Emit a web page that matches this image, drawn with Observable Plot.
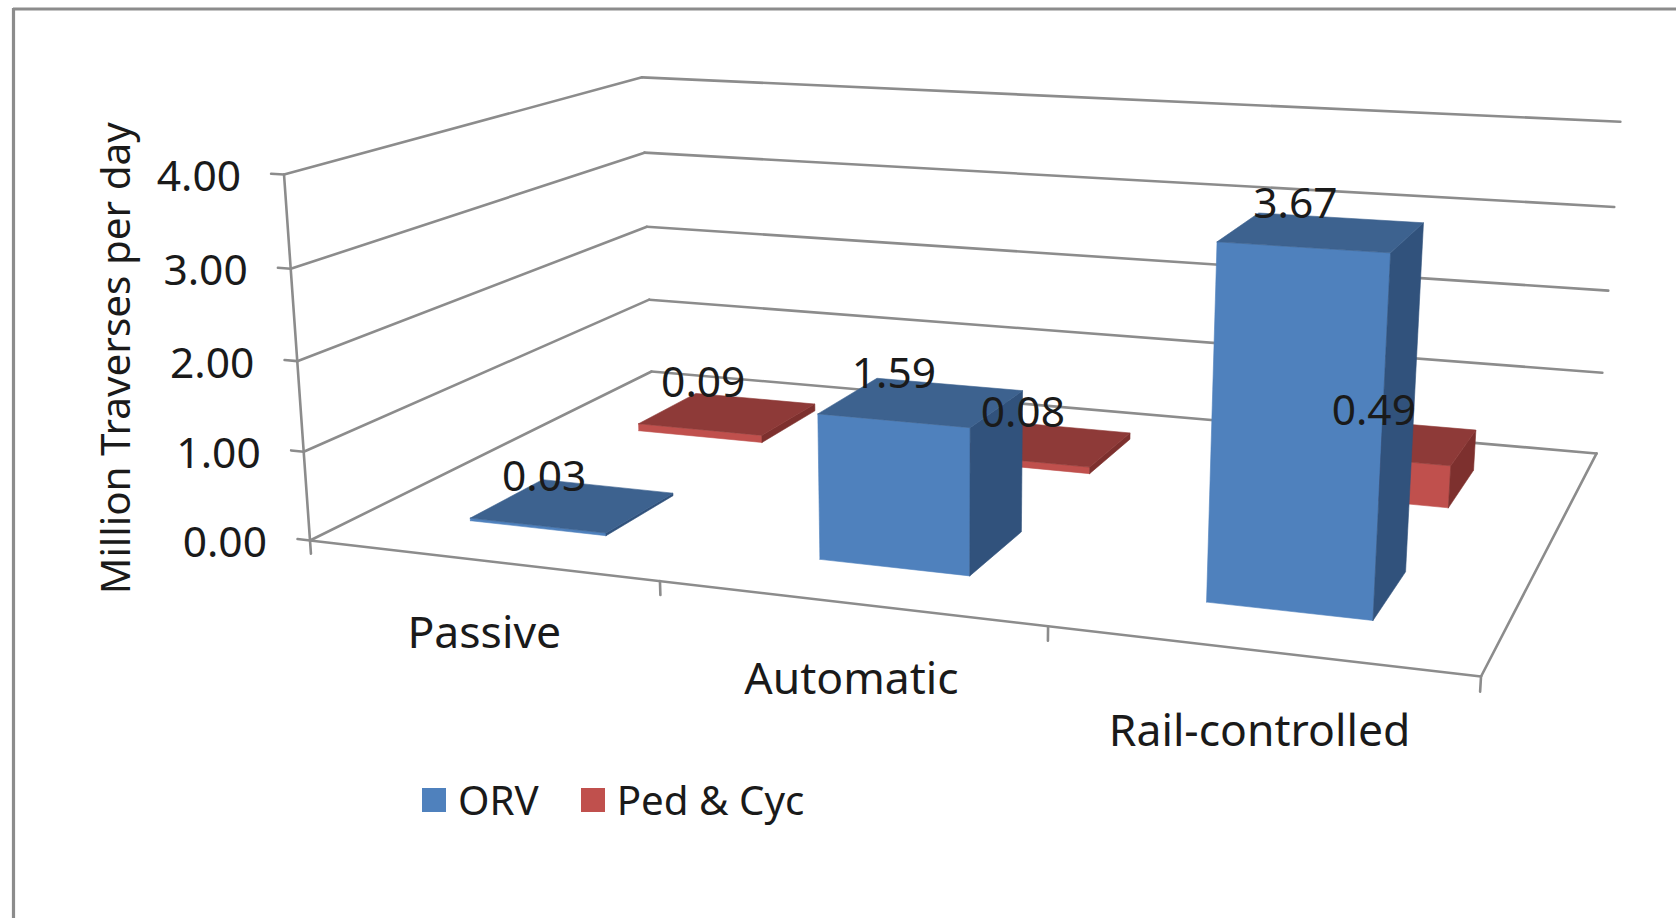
<!DOCTYPE html>
<html>
<head>
<meta charset="utf-8">
<script src="https://cdn.jsdelivr.net/npm/d3@7"></script>
<script src="https://cdn.jsdelivr.net/npm/@observablehq/plot@0.6"></script>
<style>
  html, body { margin: 0; padding: 0; background: #fff; overflow: hidden; }
  #chart { position: relative; width: 1676px; height: 918px; }
  #chart svg { display: block; }
  #legend {
    position: absolute; left: 422px; top: 778px; display: flex; align-items: center;
    font: 40.3px "Noto Sans", sans-serif; color: #1a1a1a; line-height: 44px;
  }
  #legend span.swatch { width: 24px; height: 24px; display: inline-block; margin-right: 12px; }
  #legend span.name { margin-right: 42px; }
</style>
</head>
<body>
<div id="chart"></div>
<script>
// Crossing traffic by crossing type, two rows of 3-D columns.
const categories = ["Passive", "Automatic", "Rail-controlled"];
const seriesNames = ["ORV", "Ped & Cyc"];
const orv = [0.03, 1.59, 3.67];
const pedCyc = [0.09, 0.08, 0.49];
const valueTicks = [0, 1, 2, 3, 4];
const tickFormat = d3.format(".2f");

const W = 1676, H = 918;

// Column colours: front, top and side shading per series.
const shades = [
  {front: "#4f81bd", top: "#3d628f", side: "#31527c"},
  {front: "#c0504d", top: "#8e3a38", side: "#7d302e"}
];

// Projective camera: (u along categories, v into depth, value up) to page units.
const camera = [
  [952.5, 509, -9.275, 309.5],
  [36.2, -73.6, -93.2, 540],
  [-0.1476, 0.2572, -0.0098, 1]
];
function project(u, v, value) {
  const [a, b, c] = camera;
  const w = c[0] * u + c[1] * v + c[2] * value + c[3];
  return {
    x: (a[0] * u + a[1] * v + a[2] * value + a[3]) / w,
    y: (b[0] * u + b[1] * v + b[2] * value + b[3]) / w
  };
}

const segment = (p, q) => Plot.line([p, q], {x: "x", y: "y", stroke: "#8c8c8c", strokeWidth: 2.6});

// Cage: floor outline, wall gridlines, value axis and tick marks.
const cage = [
  segment(project(0, 0, 0), project(1, 0, 0)),
  segment(project(1, 0, 0), project(1, 1, 0)),
  segment(project(0, 0, -0.15), project(0, 0, 4)),
  ...valueTicks.flatMap(t => [
    segment(project(-0.0125, 0, t), project(0, 0, t)),
    segment(project(0, 0, t), project(0, 1, t)),
    segment(project(0, 1, t), project(1, 1, t))
  ]),
  ...categories.map((_, i) => segment(project((i + 1) / 3, 0, 0), project((i + 1) / 3, 0, -0.15)))
];

// Columns take 40% of their category band and 40% of their depth band.
const share = 0.4;
function columnFaces(i, j, value) {
  const u0 = (i + 0.5 - share / 2) / 3, u1 = (i + 0.5 + share / 2) / 3;
  const v0 = (j + 0.5 - share / 2) / 2, v1 = (j + 0.5 + share / 2) / 2;
  const quad = (corners, fill) => {
    const pts = corners.map(c => project(...c));
    return Plot.line([...pts, pts[0]], {x: "x", y: "y", fill, stroke: fill, strokeWidth: 0.6});
  };
  const s = shades[j];
  return [
    quad([[u0, v0, 0], [u1, v0, 0], [u1, v0, value], [u0, v0, value]], s.front),
    quad([[u1, v0, 0], [u1, v1, 0], [u1, v1, value], [u1, v0, value]], s.side),
    quad([[u0, v0, value], [u1, v0, value], [u1, v1, value], [u0, v1, value]], s.top)
  ];
}

// Back row first so the front row covers it; left to right within a row.
const columns = [
  ...pedCyc.flatMap((value, i) => columnFaces(i, 1, value)),
  ...orv.flatMap((value, i) => columnFaces(i, 0, value))
];

const textStyle = {fontFamily: "Noto Sans", fontSize: 42.5, fill: "#1a1a1a"};

// Value labels sit just above and left of the column top; lean spreads them along the row.
const valueLabels = (values, j, dx, dy, lean) => Plot.text(
  values.map((value, i) => ({value, ...project((i + 0.5) / 3 + (i - 1) * lean, (j + 0.5) / 2, value)})),
  {x: "x", y: "y", text: d => tickFormat(d.value), dx, dy, textAnchor: "middle", ...textStyle}
);

const labels = [
  Plot.text(valueTicks.map(t => ({t, ...project(0, 0, t)})), {
    x: "x", y: "y", text: d => tickFormat(d.t), dx: -43, dy: 3, textAnchor: "end", ...textStyle
  }),
  Plot.text(categories.map((name, i) => ({name, ...project((i + 0.5) / 3 + i * 0.0015, 0, -0.8)})), {
    x: "x", y: "y", text: "name", dy: 2, textAnchor: "middle", ...textStyle, fontSize: 44.5
  }),
  Plot.text([{label: "Million Traverses per day", ...project(0, 0, 2)}], {
    x: "x", y: "y", text: "label", rotate: -90, dx: -180, dy: -3, textAnchor: "middle", ...textStyle, fontSize: 40.4
  }),
  valueLabels(pedCyc, 1, -21, -30, 0.004),
  valueLabels(orv, 0, -28, -28, 0.001)
];

const chart = Plot.plot({
  width: W, height: H, margin: 0,
  x: {domain: [0, W], range: [0, W], axis: null},
  y: {domain: [0, H], range: [0, H], axis: null},
  style: {background: "#fff"},
  marks: [
    // Chart area border along the left and top edges.
    Plot.ruleX([13], {y1: 8, y2: H, stroke: "#8c8c8c", strokeWidth: 3.2}),
    Plot.ruleY([8.5], {x1: 13, x2: W, stroke: "#8c8c8c", strokeWidth: 3.2}),
    ...cage,
    ...columns,
    ...labels
  ]
});

const host = document.getElementById("chart");
host.appendChild(chart);

const legend = document.createElement("div");
legend.id = "legend";
seriesNames.forEach((name, j) => {
  const swatch = document.createElement("span");
  swatch.className = "swatch";
  swatch.style.background = shades[j].front;
  const text = document.createElement("span");
  text.className = "name";
  text.textContent = name;
  legend.append(swatch, text);
});
host.appendChild(legend);
</script>
</body>
</html>
